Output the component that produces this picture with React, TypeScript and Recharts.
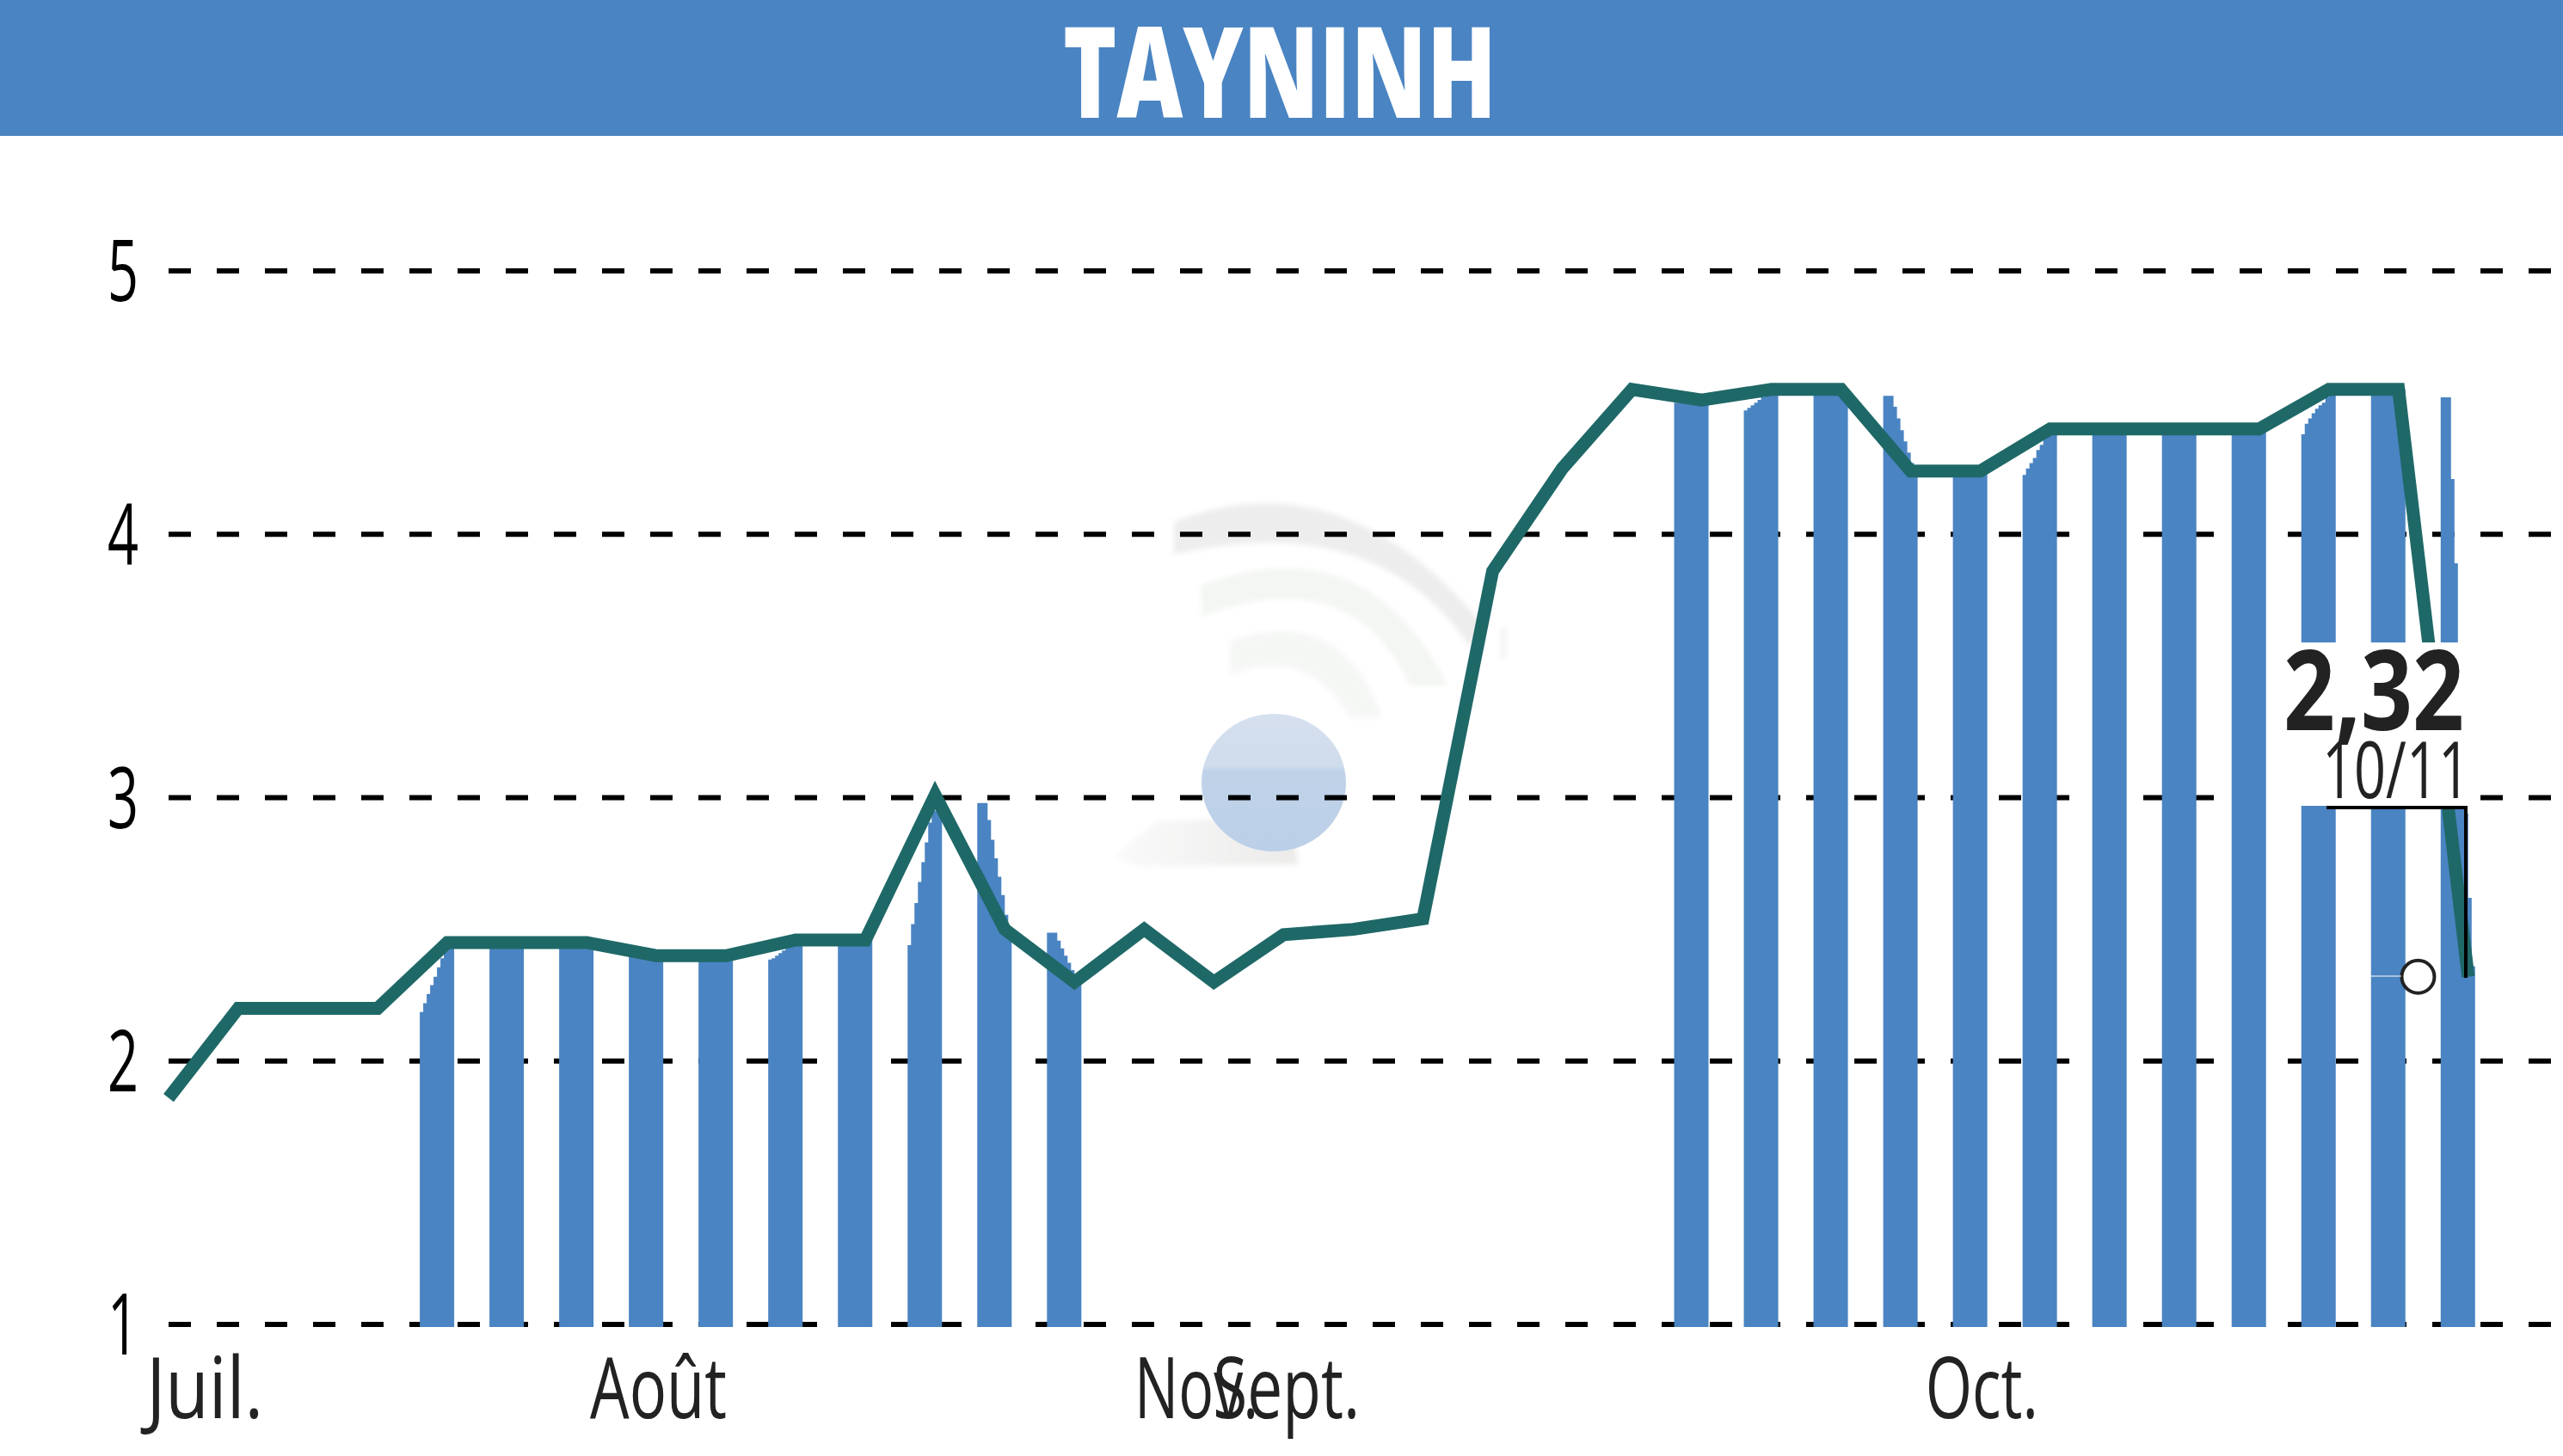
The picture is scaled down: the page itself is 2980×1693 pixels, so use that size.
import { Bar, CartesianGrid, ComposedChart, Line, ReferenceDot, XAxis, YAxis } from "recharts";

const WIDTH = 2980;
const HEIGHT = 1693;
const BLUE = "#4a84c2";
const TEAL = "#1f6868";
const FONT = "'Open Sans', sans-serif";

// weekly closes
const priceValues = [
  1.86, 2.2, 2.2, 2.2, 2.45, 2.45, 2.45, 2.4, 2.4, 2.46, 2.46, 3.01, 2.5, 2.3, 2.5, 2.3, 2.48,
  2.5, 2.54, 3.86, 4.25, 4.55, 4.51, 4.55, 4.55, 4.24, 4.24, 4.4, 4.4, 4.4, 4.4, 4.55, 4.55, 2.32,
];
// flat top of each stripe, null where there is no stripe
const stripeTops = [
  null, null, null, null, 2.45, 2.45, 2.45, 2.41, 2.4, 2.46, 2.46, 2.95, 2.98, 2.49, null, null, null,
  null, null, null, null, null, 4.5, 4.55, 4.55, 4.53, 4.24, 4.4, 4.4, 4.4, 4.4, 4.55, 4.55, 4.52,
];
// stripes with a sloped top are drawn as a staircase of ten tops
const stripeSteps: Record<number, number[]> = {
  4: [2.186, 2.22, 2.255, 2.288, 2.32, 2.356, 2.39, 2.42, 2.45, 2.45],
  7: [2.41, 2.41, 2.41, 2.41, 2.41, 2.4, 2.4, 2.4, 2.4, 2.4],
  9: [2.385, 2.39, 2.4, 2.41, 2.42, 2.43, 2.44, 2.45, 2.46, 2.46],
  11: [2.44, 2.52, 2.6, 2.68, 2.755, 2.83, 2.905, 2.95, 2.95, 2.95],
  12: [2.98, 2.98, 2.98, 2.915, 2.84, 2.77, 2.7, 2.63, 2.555, 2.49],
  13: [2.487, 2.487, 2.487, 2.457, 2.428, 2.4, 2.373, 2.345, 2.32, 2.3],
  23: [4.47, 4.48, 4.49, 4.5, 4.51, 4.52, 4.53, 4.54, 4.55, 4.55],
  25: [4.526, 4.526, 4.526, 4.484, 4.44, 4.395, 4.353, 4.31, 4.27, 4.24],
  27: [4.225, 4.25, 4.27, 4.29, 4.32, 4.34, 4.365, 4.39, 4.4, 4.4],
  31: [4.38, 4.42, 4.44, 4.46, 4.477, 4.49, 4.5, 4.52, 4.54, 4.55],
  33: [4.52, 4.52, 4.52, 4.21, 3.89, 3.57, 3.26, 2.94, 2.62, 2.36],
};

const monthLabels = ["Juil.", "Août", "Nov.", "Sept.", "Oct."];
const monthPositions = [0.52, 7.03, 14.75, 16.04, 26.02];
const monthLabelWidths = [136, 159, 144, 171, 131];
const yTicks = [1, 2, 3, 4, 5];

const data = priceValues.map((price, i) => ({
  x: i,
  price,
  stripe: stripeTops[i],
  steps: stripeSteps[i],
}));

const StripeShape = (props: any) => {
  const { x, y, width, height, payload } = props;
  if (payload.stripe == null || !height) return null;
  const unit = height / (payload.stripe - 1);
  const base = y + height;
  const top = (v: number) => base - (v - 1) * unit;
  const x0 = x - 12.5;
  const x1 = x0 + width;
  let d = `M${x0} ${base + 3}`;
  if (payload.steps) {
    payload.steps.forEach((v: number, i: number) => {
      const from = x0 + (width * i) / payload.steps.length;
      const to = x0 + (width * (i + 1)) / payload.steps.length;
      d += `L${from} ${top(v)}L${to} ${top(v)}`;
    });
  } else {
    d += `L${x0} ${y}L${x1} ${y}`;
  }
  d += `L${x1} ${base + 3}Z`;
  return <path d={d} fill={BLUE} />;
};

const YTick = ({ y, payload }: any) => (
  <text
    x={143}
    y={y + 35}
    textAnchor="middle"
    fontFamily={FONT}
    fontSize={98}
    fontWeight={500}
    fill="#000"
    textLength={36}
    lengthAdjust="spacingAndGlyphs"
  >
    {payload.value}
  </text>
);

const MonthTick = ({ x, index }: any) => (
  <text
    x={x}
    y={1649}
    textAnchor="middle"
    fontFamily={FONT}
    fontSize={98}
    fontWeight={500}
    fill="#222"
    textLength={monthLabelWidths[index]}
    lengthAdjust="spacingAndGlyphs"
  >
    {monthLabels[index]}
  </text>
);

// faded logo behind the chart
const Watermark = () => (
  <svg width={WIDTH} height={HEIGHT} style={{ position: "absolute", left: 0, top: 0 }}>
    <defs>
      <linearGradient id="ball" x1="0" y1="0" x2="0" y2="1">
        <stop offset="0" stopColor="#d6e0ef" />
        <stop offset="0.38" stopColor="#cfdcec" />
        <stop offset="0.42" stopColor="#bfd2e8" />
        <stop offset="1" stopColor="#bbd0e8" />
      </linearGradient>
      <linearGradient id="shadow" x1="0" y1="0" x2="1" y2="0">
        <stop offset="0" stopColor="#fafafa" />
        <stop offset="1" stopColor="#ecebea" />
      </linearGradient>
      <filter id="soft">
        <feGaussianBlur stdDeviation="3" />
      </filter>
    </defs>
    <g filter="url(#soft)">
      <path d="M1296 995 L1345 955 L1500 950 L1510 1005 L1320 1008 Z" fill="url(#shadow)" />
      <path d="M1365 645 L1365 607 Q1560 530 1725 727 L1710 753 Q1600 590 1365 645 Z" fill="#ecedec" />
      <path d="M1397 717 L1397 680 Q1590 610 1683 797 L1640 797 Q1570 650 1397 717 Z" fill="#f3f6f2" />
      <path d="M1430 785 L1430 745 Q1560 700 1608 835 L1570 835 Q1520 750 1430 785 Z" fill="#f5f7f5" />
      <rect x={1744} y={730} width={8} height={36} fill="#f3f5f3" />
    </g>
    <ellipse cx={1481} cy={910} rx={84} ry={80} fill="url(#ball)" />
  </svg>
);

// last price label, covers what is under it
const LastLabel = () => (
  <svg width={WIDTH} height={HEIGHT} style={{ position: "absolute", left: 0, top: 0 }}>
    <rect x={2660} y={747} width={220} height={190} fill="#fff" />
    <text x={2655} y={849} fontFamily={FONT} fontSize={129} fontWeight={700} fill="#222" textLength={210} lengthAdjust="spacingAndGlyphs">
      2,32
    </text>
    <text x={2700} y={928} fontFamily={FONT} fontSize={92} fill="#222" textLength={172} lengthAdjust="spacingAndGlyphs">
      10/11
    </text>
    <path d="M2705 939 L2867 939 L2867 1137" fill="none" stroke="#000" strokeWidth={4} />
    <path d="M2757 1135 L2792 1135" fill="none" stroke="#fff" strokeWidth={1} />
  </svg>
);

export default function App() {
  return (
    <div style={{ position: "absolute", left: 0, top: 0, width: WIDTH, height: HEIGHT, background: "#fff", overflow: "hidden" }}>
      <Watermark />
      <div style={{ position: "absolute", left: 0, top: 0 }}>
        <ComposedChart width={WIDTH} height={HEIGHT} data={data} margin={{ top: 315, right: 0, bottom: 0, left: 0 }}>
          <XAxis
            dataKey="x"
            type="number"
            domain={[0, 34.36]}
            ticks={monthPositions}
            interval={0}
            axisLine={false}
            tickLine={false}
            height={153}
            tick={<MonthTick />}
          />
          <YAxis
            domain={[1, 5]}
            ticks={yTicks}
            width={196}
            axisLine={false}
            tickLine={false}
            tick={<YTick />}
          />
          <Bar dataKey="stripe" barSize={40} shape={<StripeShape />} isAnimationActive={false} />
          <CartesianGrid vertical={false} stroke="#000" strokeWidth={6} strokeDasharray="26 30" />
          <Line
            dataKey="price"
            type="linear"
            stroke={TEAL}
            strokeWidth={15}
            strokeLinejoin="miter"
            dot={false}
            isAnimationActive={false}
          />
          <ReferenceDot x={32.28} y={2.32} r={19} fill="#fff" stroke="#222" strokeWidth={4} />
        </ComposedChart>
      </div>
      <LastLabel />
      <div style={{ position: "absolute", left: 0, top: 0, width: WIDTH, height: 158, background: BLUE }}>
        <svg width={WIDTH} height={158}>
          <text x={1488} y={137} textAnchor="middle" fontFamily={FONT} fontSize={147} fontWeight={800} fill="#fff" textLength={504} lengthAdjust="spacingAndGlyphs">
            TAYNINH
          </text>
        </svg>
      </div>
    </div>
  );
}
